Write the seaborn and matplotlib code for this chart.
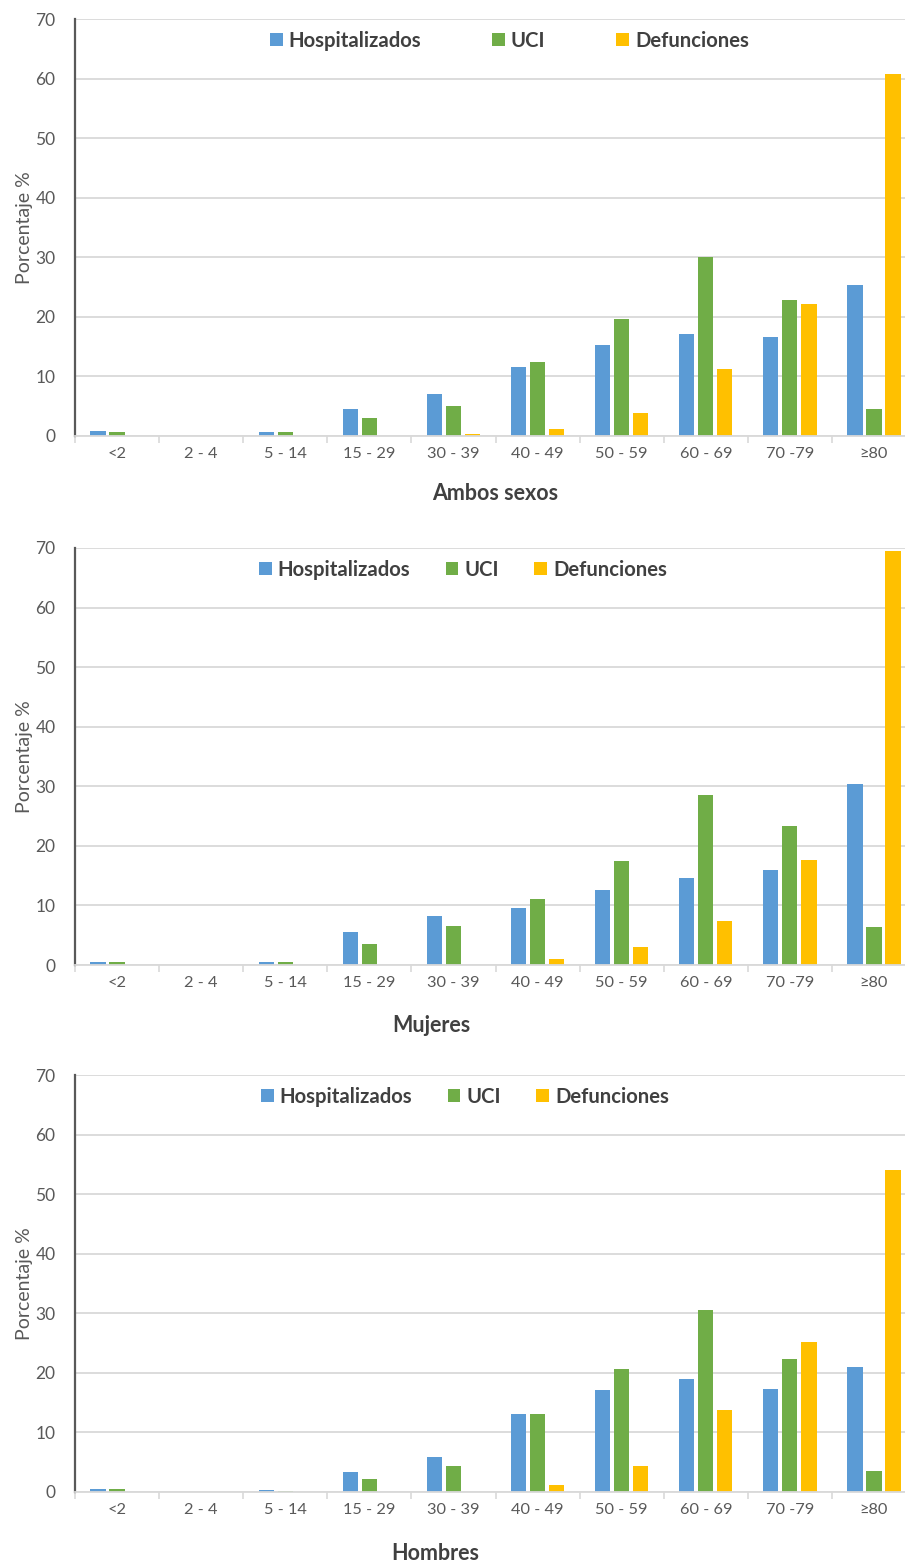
import numpy as np
import pandas as pd
import matplotlib
matplotlib.use("Agg")
import matplotlib.pyplot as plt
from matplotlib.patches import Patch
import seaborn as sns

# ------------------------------------------------------------------
# Data (percentages)
# ------------------------------------------------------------------

age_groups = ["<2", "2 - 4", "5 - 14", "15 - 29", "30 - 39",
              "40 - 49", "50 - 59", "60 - 69", "70 -79", "\u226580"]
series_names = ["Hospitalizados", "UCI", "Defunciones"]

ambos_hosp = [0.8, 0.0, 0.6, 4.5, 7.0, 11.6, 15.2, 17.1, 16.7, 25.3]
ambos_uci = [0.6, 0.0, 0.6, 3.0, 5.1, 12.5, 19.6, 30.1, 22.8, 4.6]
ambos_def = [0.0, 0.0, 0.0, 0.0, 0.3, 1.1, 3.8, 11.3, 22.1, 60.8]

mujeres_hosp = [0.55, 0.0, 0.55, 5.5, 8.2, 9.6, 12.6, 14.6, 15.9, 30.4]
mujeres_uci = [0.55, 0.0, 0.55, 3.6, 6.6, 11.1, 17.4, 28.5, 23.3, 6.4]
mujeres_def = [0.0, 0.0, 0.0, 0.0, 0.0, 0.95, 3.0, 7.4, 17.7, 69.5]

hombres_hosp = [0.5, 0.0, 0.35, 3.4, 5.8, 13.1, 17.2, 18.9, 17.3, 20.9]
hombres_uci = [0.5, 0.0, 0.2, 2.2, 4.3, 13.1, 20.6, 30.5, 22.4, 3.6]
hombres_def = [0.0, 0.0, 0.0, 0.0, 0.0, 1.1, 4.3, 13.8, 25.1, 54.1]

panel_titles = ["Ambos sexos", "Mujeres", "Hombres"]

COLORS = ["#5B9BD5", "#70AD47", "#FFC000"]
GRID = "#D9D9D9"
TEXT = "#595959"
DARK = "#404040"

sns.set_theme(style="white")
plt.rcParams["font.family"] = ["Lato", "DejaVu Sans"]

W, H = 905, 1564
fig = plt.figure(figsize=(W / 100, H / 100), dpi=100)
fig.patch.set_facecolor("white")

# pixel layout of each panel: (top, bottom) of the plotting area
panel_px = [(19, 436), (548, 965), (1075, 1492)]
legend_x = [270, 259, 261]
legend_spacing = [3.5, 1.75, 1.75]
xlabel_px = [(495, 493), (431, 1026), (435, 1553)]
left_px, right_px = 75, 916

panels = [
    (ambos_hosp, ambos_uci, ambos_def),
    (mujeres_hosp, mujeres_uci, mujeres_def),
    (hombres_hosp, hombres_uci, hombres_def),
]

for i, (hosp, uci, dfn) in enumerate(panels):
    top, bottom = panel_px[i]
    ax = fig.add_axes([left_px / W, 1 - bottom / H,
                       (right_px - left_px) / W, (bottom - top) / H])

    df = pd.DataFrame({
        "grupo": age_groups * 3,
        "serie": np.repeat(series_names, len(age_groups)),
        "valor": list(hosp) + list(uci) + list(dfn),
    })
    sns.barplot(data=df, x="grupo", y="valor", hue="serie",
                order=age_groups, hue_order=series_names,
                palette=COLORS, width=0.68, gap=0.2,
                saturation=1, linewidth=0, ax=ax, legend=False)

    ax.set_xlim(-0.5, len(age_groups) - 0.5)
    ax.set_ylim(0, 70)
    ax.set_yticks(range(0, 71, 10))
    ax.yaxis.grid(True, color=GRID, linewidth=1.3)
    ax.set_axisbelow(True)

    for s in ["top", "right"]:
        ax.spines[s].set_visible(False)
    ax.spines["left"].set_color("#595959")
    ax.spines["left"].set_linewidth(1.6)
    ax.spines["bottom"].set_color(GRID)
    ax.spines["bottom"].set_linewidth(1.3)

    ax.set_xticks(np.arange(-0.5, len(age_groups), 1.0), minor=True)
    ax.tick_params(axis="x", which="minor", length=5, width=1.2,
                   color=GRID, direction="out", bottom=True)
    ax.tick_params(axis="x", which="major", length=0, pad=8,
                   labelsize=11.8, labelcolor=TEXT)
    ax.tick_params(axis="y", length=0, pad=14, labelsize=12.5,
                   labelcolor=TEXT)

    ax.set_xlabel("")
    ax.set_ylabel("Porcentaje %", fontsize=14, color=TEXT, labelpad=2)

    handles = [Patch(facecolor=c, edgecolor="none") for c in COLORS]
    ax.legend(handles, series_names, loc="center left",
              bbox_to_anchor=((legend_x[i] - left_px) / (right_px - left_px),
                              (bottom - top - 22) / (bottom - top)),
              ncol=3, frameon=False, borderpad=0, borderaxespad=0,
              handlelength=0.62, handleheight=0.62, handletextpad=0.3,
              columnspacing=legend_spacing[i],
              prop={"weight": "bold", "size": 14.6})
    for t in ax.get_legend().get_texts():
        t.set_color(DARK)

    lx, ly = xlabel_px[i]
    fig.text(lx / W, 1 - ly / H, panel_titles[i], ha="center",
             va="center", fontsize=15.5, fontweight="bold", color=DARK)

fig.savefig("out.png", dpi=100, facecolor="white")
